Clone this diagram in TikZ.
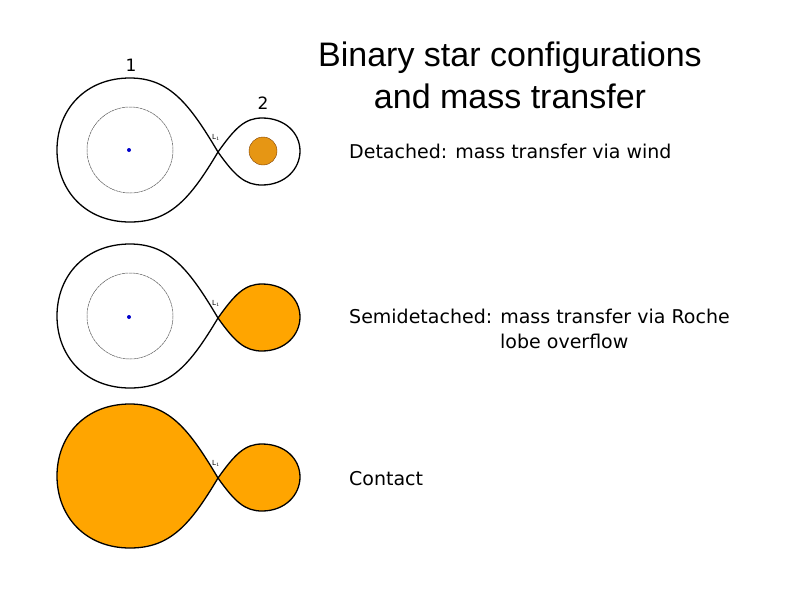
\documentclass[tikz,border=0pt]{standalone}
\usepackage{fontspec}
\setmainfont{DejaVu Sans}
\newfontfamily\titlefont{Liberation Sans}
\definecolor{starorange}{RGB}{255,165,0}
\definecolor{dotorange}{RGB}{230,150,20}
\begin{document}
\begin{tikzpicture}[x=1pt,y=-1pt,
  lobe/.style={draw=black,line width=1.3pt},
  inner/.style={gray!70!black,line width=0.5pt,dash pattern=on 3pt off 0.6pt},
  bodytext/.style={anchor=west,font=\fontsize{19}{22}\selectfont,inner sep=0pt},
  lab/.style={font=\fontsize{17}{20}\selectfont},
  lone/.style={font=\fontsize{7}{8}\selectfont,inner sep=0pt}]
\useasboundingbox (0,0) rectangle (794,595);
\newcommand{\binfig}[3]{%
  \begin{scope}[yshift=#1]
  \path[lobe,fill=#2] (218,152) .. controls (190,105) and (170,78) .. (130,78)
    .. controls (85,78) and (57,110) .. (57,150)
    .. controls (57,190) and (85,222) .. (130,222)
    .. controls (170,222) and (190,199) .. (218,152) -- cycle;
  \path[lobe,fill=#3] (218,152) .. controls (235,128) and (245,118) .. (262,118)
    .. controls (285,118) and (300,133) .. (300,151)
    .. controls (300,169) and (285,185) .. (262,185)
    .. controls (245,185) and (235,176) .. (218,152) -- cycle;
  \node[lone] at (216,137) {L$_1$};
  \end{scope}}
\binfig{0pt}{white}{white}
\binfig{-166pt}{white}{starorange}
\binfig{-326pt}{starorange}{starorange}
\draw[inner] (130,150) circle (43);
\draw[inner] (130,316) circle (43);
\fill[blue!80!black] (129,150) circle (2);
\fill[blue!80!black] (129,317) circle (2);
\draw[fill=dotorange,draw=black!50!orange,line width=0.4pt] (263,151) circle (14);
\node[lab] (n1) at (131,65) {1};
\node[lab] (n2) at (263,103) {2};
\node[align=center,font=\titlefont\fontsize{34}{42}\selectfont] (title) at (510,75) {Binary star configurations\\and mass transfer};
\node[bodytext] (t1) at (349,151) {Detached: mass transfer via wind};
\node[bodytext] (t2) at (349,316) {Semidetached: mass transfer via Roche};
\node[bodytext] (t3) at (500,341) {lobe overflow};
\node[bodytext] (t4) at (349,479) {Contact};
\end{tikzpicture}
\end{document}
